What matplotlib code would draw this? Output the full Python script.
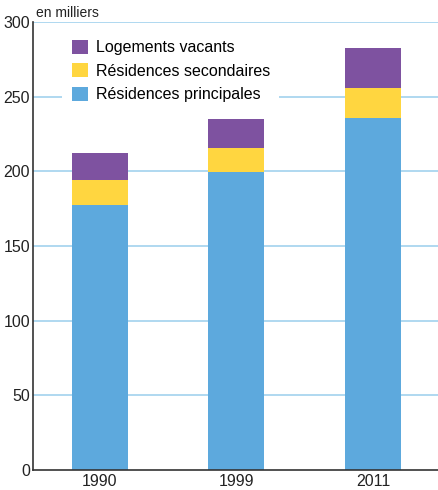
import matplotlib
matplotlib.use("Agg")
import matplotlib.pyplot as plt
import numpy as np

# en milliers
years = ["1990", "1999", "2011"]
principales = [177.5, 199.5, 235.8]
secondaires = [16.7, 16.1, 20.1]
vacants = [18.1, 19.4, 26.7]
yticks = [0, 50, 100, 150, 200, 250, 300]

c_princ = "#5DA9DD"
c_sec = "#FFD640"
c_vac = "#7E52A0"
c_grid = "#A9D5EF"

plt.rcParams["font.family"] = ["Liberation Sans", "DejaVu Sans"]

fig = plt.figure(figsize=(4.38, 4.90), dpi=100)
ax = fig.add_axes([33 / 438, 20 / 490, 1 - 33 / 438, 448 / 490])

x = np.arange(len(years))
w = 0.41
b1 = ax.bar(x, principales, w, color=c_princ, label="Résidences principales", zorder=2)
b2 = ax.bar(x, secondaires, w, bottom=principales, color=c_sec,
            label="Résidences secondaires", zorder=2)
bot3 = np.array(principales) + np.array(secondaires)
b3 = ax.bar(x, vacants, w, bottom=bot3, color=c_vac, label="Logements vacants", zorder=2)

ax.set_xlim(-0.49, 2.476)
ax.set_ylim(0, 300)
ax.set_yticks(yticks)
ax.set_xticks(x)
ax.set_xticklabels(years)
for t in yticks[1:]:
    ax.axhline(t, color=c_grid, lw=1.3, zorder=1)
ax.tick_params(axis="both", length=0, labelsize=11.5, colors="#222222", pad=3)
ax.tick_params(axis="y", pad=2)

for s in ("top", "right"):
    ax.spines[s].set_visible(False)
ax.spines["left"].set_color("#333333")
ax.spines["bottom"].set_color("#333333")
ax.spines["left"].set_linewidth(1.2)
ax.spines["bottom"].set_linewidth(1.2)

leg = ax.legend(handles=[b3, b2, b1], loc="upper left",
                bbox_to_anchor=(29 / 405, 1 - 8 / 448), frameon=True,
                facecolor="white", edgecolor="none", framealpha=1, fancybox=False,
                fontsize=11.5, handlelength=1.0, handleheight=1.0,
                handletextpad=0.5, labelspacing=0.5, borderpad=0.6, borderaxespad=0)
leg.set_zorder(5)

fig.text(36 / 438, 1 - 13 / 490, "en milliers", fontsize=10, color="#222222",
         va="center", ha="left")

fig.savefig("out.png", dpi=100)
